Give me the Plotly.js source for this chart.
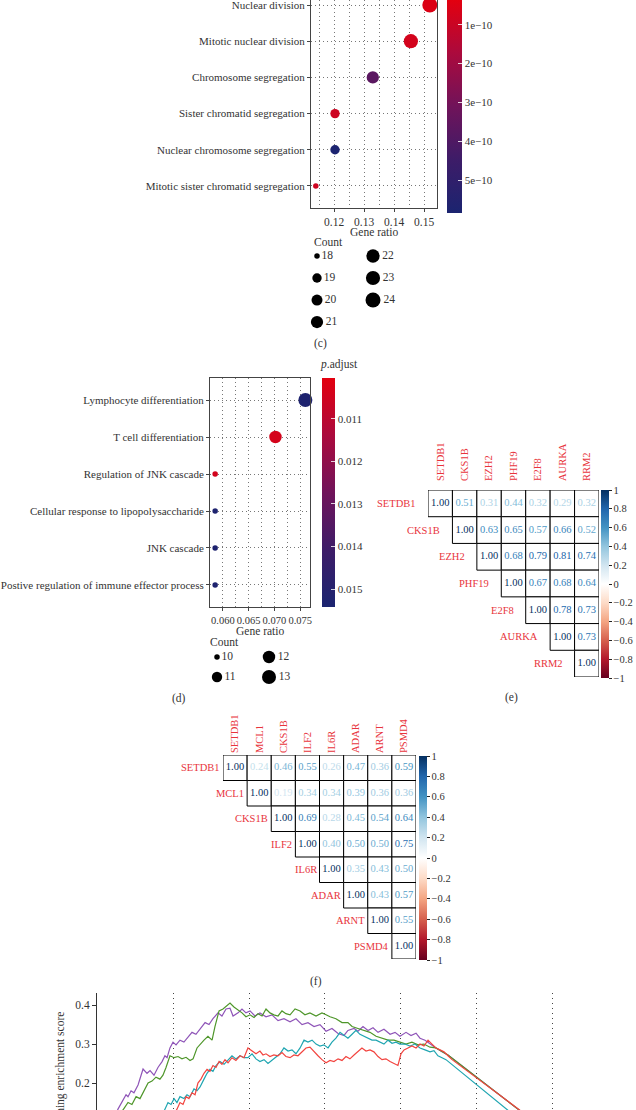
<!DOCTYPE html>
<html>
<head>
<meta charset="utf-8">
<script src="https://cdn.plot.ly/plotly-3.0.1.min.js"></script>
<style>html,body{margin:0;padding:0;background:#fff;}#chart{width:636px;height:1110px;}</style>
</head>
<body>
<div id="chart"></div>
<script>
// ---------------- DATA ----------------
// (c) GO dot plot
const termsC = ['Nuclear division','Mitotic nuclear division','Chromosome segregation','Sister chromatid segregation','Nuclear chromosome segregation','Mitotic sister chromatid segregation'];
const countC = [24, 23, 21, 19, 19, 18];
const ratioC = [0.1519, 0.1456, 0.1329, 0.1203, 0.1203, 0.1139];
const padjC  = [0.55e-10, 0.75e-10, 3.7e-10, 0.9e-10, 5.8e-10, 0.9e-10];
const countLegendC = [18, 19, 20, 21, 22, 23, 24];
const padjTicksC = [1e-10, 2e-10, 3e-10, 4e-10, 5e-10];
const padjTickTextC = ['1e\u221210','2e\u221210','3e\u221210','4e\u221210','5e\u221210'];

// (d) GO dot plot
const termsD = ['Lymphocyte differentiation','T cell differentiation','Regulation of JNK cascade','Cellular response to lipopolysaccharide','JNK cascade','Postive regulation of immune effector process'];
const countD = [13, 12, 10, 10, 10, 10];
const ratioD = [0.0760, 0.0702, 0.0585, 0.0585, 0.0585, 0.0585];
const padjD  = [0.01530, 0.01040, 0.01045, 0.01530, 0.01530, 0.01530];
const countLegendD = [10, 11, 12, 13];
const padjTicksD = [0.011, 0.012, 0.013, 0.014, 0.015];

// (e) correlation matrix (upper triangle, row by row)
const genesE = ['SETDB1','CKS1B','EZH2','PHF19','E2F8','AURKA','RRM2'];
const corrE = [
  [1.00, 0.51, 0.31, 0.44, 0.32, 0.29, 0.32],
  [1.00, 0.63, 0.65, 0.57, 0.66, 0.52],
  [1.00, 0.68, 0.79, 0.81, 0.74],
  [1.00, 0.67, 0.68, 0.64],
  [1.00, 0.78, 0.73],
  [1.00, 0.73],
  [1.00]
];

// (f) correlation matrix
const genesF = ['SETDB1','MCL1','CKS1B','ILF2','IL6R','ADAR','ARNT','PSMD4'];
const corrF = [
  [1.00, 0.24, 0.46, 0.55, 0.26, 0.47, 0.36, 0.59],
  [1.00, 0.19, 0.34, 0.34, 0.39, 0.36, 0.36],
  [1.00, 0.69, 0.28, 0.45, 0.54, 0.64],
  [1.00, 0.40, 0.50, 0.50, 0.75],
  [1.00, 0.35, 0.43, 0.50],
  [1.00, 0.43, 0.57],
  [1.00, 0.55],
  [1.00]
];

// GSEA running enrichment score (gene rank, ES)
const purpleRank = [0,990,1380,1640,1910,2040,2240,2430,2700,3030,3290,3490,3750,4010,4280,4470,4610,4800,5000,5200,5460,5720,5990,6250,6510,6780,7110,7370,7630,7960,8220,8490,8750,8950,9280,9540,9800,10070,10390,10720,11120,11510,11910,12300,12700,13090,13490,13880,14280,14670,15070,15460,15860,16250,16510,16910,17170,17500,17830,18160,18490,18880,19280,19610,19930,20330,20660,20990,21250,21580,21910,22300,22700,23090,32110];
const purpleES   = [0,0.10,0.133,0.15,0.17,0.165,0.18,0.175,0.195,0.236,0.225,0.232,0.22,0.24,0.255,0.27,0.265,0.29,0.305,0.298,0.31,0.305,0.318,0.33,0.325,0.34,0.355,0.35,0.365,0.38,0.372,0.39,0.392,0.372,0.38,0.39,0.38,0.385,0.372,0.38,0.37,0.375,0.36,0.365,0.357,0.365,0.35,0.355,0.345,0.35,0.333,0.34,0.327,0.322,0.335,0.34,0.333,0.345,0.335,0.342,0.33,0.338,0.325,0.33,0.32,0.33,0.322,0.328,0.315,0.31,0.30,0.29,0.28,0.272,0];
const greenRank = [0,1510,1780,2040,2300,2570,2830,3090,3360,3620,3880,4140,4340,4540,4800,5070,5330,5590,5860,6120,6320,6580,6780,7040,7300,7570,7760,8030,8290,8550,8750,9010,9280,9540,9800,10070,10330,10590,10860,11120,11380,11640,11910,12170,12430,12700,13030,13360,13680,14010,14410,14800,15070,15330,15720,16120,16510,16780,17170,17570,17960,18360,18750,19150,19540,19930,20330,20720,21120,21510,21910,22300,22700,23090,32110];
const greenES   = [0,0.12,0.135,0.15,0.145,0.165,0.16,0.18,0.20,0.205,0.215,0.21,0.22,0.24,0.27,0.265,0.268,0.262,0.266,0.258,0.262,0.29,0.30,0.31,0.32,0.31,0.345,0.385,0.39,0.40,0.405,0.395,0.388,0.38,0.37,0.375,0.368,0.378,0.372,0.39,0.38,0.375,0.372,0.385,0.378,0.375,0.39,0.385,0.375,0.38,0.372,0.38,0.375,0.37,0.365,0.355,0.355,0.345,0.34,0.335,0.33,0.32,0.315,0.31,0.31,0.305,0.30,0.305,0.298,0.30,0.292,0.29,0.28,0.272,0];
const tealRank = [0,3490,4470,4670,4870,5070,5260,5460,5720,5920,6120,6380,6580,6780,7040,7240,7430,7630,7830,8090,8360,8620,8880,9140,9410,9670,9930,10200,10460,10720,10990,11250,11510,11780,12040,12300,12570,12830,13090,13360,13620,13880,14150,14410,14670,14930,15200,15460,15720,15990,16250,16510,16780,17040,17300,17570,17830,18090,18360,18620,18880,19150,19410,19670,19930,20260,20590,20920,21250,21580,21910,22170,22430,22700,22960,31120];
const tealES   = [0,0.05,0.133,0.15,0.145,0.16,0.15,0.165,0.16,0.17,0.165,0.185,0.18,0.19,0.21,0.225,0.235,0.23,0.245,0.255,0.248,0.26,0.27,0.262,0.27,0.265,0.265,0.275,0.262,0.255,0.26,0.25,0.258,0.265,0.275,0.29,0.282,0.285,0.275,0.29,0.31,0.305,0.31,0.30,0.295,0.298,0.29,0.305,0.315,0.33,0.322,0.315,0.325,0.335,0.325,0.32,0.315,0.31,0.31,0.305,0.30,0.31,0.302,0.305,0.30,0.30,0.295,0.30,0.29,0.285,0.28,0.283,0.27,0.265,0.26,0];
const redRank = [0,4140,5260,5460,5660,5860,6050,6250,6450,6640,6840,7040,7240,7430,7630,7830,8030,8220,8420,8620,8880,9140,9410,9670,9930,10200,10460,10720,10920,11120,11380,11640,11910,12170,12430,12700,12960,13220,13490,13750,14010,14280,14540,14800,15070,15330,15590,15860,16120,16380,16640,16910,17170,17430,17700,17960,18220,18490,18750,19010,19280,19540,19800,20000,20200,20460,20720,20990,21250,21510,21780,22040,22300,22570,22830,23090,23360,32300];
const redES   = [0,0.05,0.133,0.15,0.145,0.165,0.16,0.175,0.17,0.20,0.21,0.225,0.235,0.23,0.245,0.24,0.255,0.248,0.26,0.252,0.265,0.258,0.27,0.265,0.29,0.282,0.275,0.282,0.272,0.275,0.268,0.272,0.27,0.278,0.268,0.265,0.272,0.27,0.28,0.29,0.292,0.28,0.27,0.26,0.252,0.258,0.255,0.262,0.258,0.268,0.262,0.272,0.28,0.29,0.282,0.285,0.28,0.268,0.26,0.262,0.255,0.25,0.245,0.275,0.285,0.29,0.295,0.29,0.30,0.295,0.31,0.30,0.29,0.285,0.28,0.27,0.26,0];

// ---------------- HELPERS ----------------
const W = 636, H = 1110;
const FONT = '"Liberation Serif", "Times New Roman", Times, serif';
const TXT = '#333333';
const RED_LABEL = '#e8343c';
const px = x => x / W;
const py = y => 1 - y / H;

const dotScale = [[0,'#1b2470'],[0.25,'#3d1c68'],[0.5,'#70135a'],[0.75,'#ab0a3d'],[1,'#e3000f']];
const rdbu = ['#67001F','#B2182B','#D6604D','#F4A582','#FDDBC7','#FFFFFF','#D1E5F0','#92C5DE','#4393C3','#2166AC','#053061'];
const rdbuScale = rdbu.map((c, i) => [i / 10, c]);
function hex2rgb(h){ return [parseInt(h.slice(1,3),16), parseInt(h.slice(3,5),16), parseInt(h.slice(5,7),16)]; }
function corrColor(v){
  const t = (v + 1) / 2 * 10;
  const i = Math.min(9, Math.floor(t));
  const f = t - i;
  const a = hex2rgb(rdbu[i]), b = hex2rgb(rdbu[i + 1]);
  const c = a.map((ai, k) => Math.round(ai + (b[k] - ai) * f));
  return 'rgb(' + c.join(',') + ')';
}
// ggplot-like area size scale
function sizeScale(c, lo, hi, d0, d1){ return d0 + Math.sqrt((c - lo) / (hi - lo)) * (d1 - d0); }

const traces = [];
const shapes = [];
const annotations = [];

function ann(text, x, y, opts){
  annotations.push(Object.assign({text: text, x: px(x), y: py(y), xref: 'paper', yref: 'paper',
    xanchor: 'center', yanchor: 'middle',
    showarrow: false, font: {family: FONT, size: 11.5, color: TXT}}, opts || {}));
}

const DOT_DASH = '1px,3px';

// ---------------- (c) ----------------
traces.push({
  type: 'scatter', mode: 'markers', xaxis: 'x', yaxis: 'y', cliponaxis: false,
  x: ratioC, y: termsC,
  marker: {
    size: countC.map(c => sizeScale(c, 18, 24, 5.5, 15)),
    color: padjC.map(v => -v), colorscale: dotScale, cmin: -5.85e-10, cmax: -0.36e-10,
    line: {width: 0}, opacity: 1, showscale: true,
    colorbar: {x: px(447), xanchor: 'left', xpad: 0, y: 1, yanchor: 'top', ypad: 0,
      len: 213, lenmode: 'pixels', thickness: 15, thicknessmode: 'pixels', outlinewidth: 0,
      tickmode: 'array', tickvals: padjTicksC.map(v => -v), ticktext: padjTickTextC,
      ticks: 'inside', ticklen: 4, tickcolor: 'rgba(255,255,255,0.8)',
      tickfont: {family: FONT, size: 11, color: TXT}}
  }
});
traces.push({
  type: 'scatter', mode: 'markers+text', xaxis: 'x6', yaxis: 'y6', cliponaxis: false,
  x: countLegendC.map((c, i) => Math.floor(i / 4)),
  y: countLegendC.map((c, i) => i % 4),
  text: countLegendC.map(String), textposition: 'middle right',
  textfont: {family: FONT, size: 11.5, color: TXT},
  marker: {color: '#000', opacity: 1, line: {width: 0}, size: countLegendC.map(c => sizeScale(c, 18, 24, 5.5, 15))}
});
ann('Gene ratio', 374, 232);
ann('Count', 312, 242, {xanchor: 'left'});
ann('(c)', 320, 344);

// ---------------- (d) ----------------
traces.push({
  type: 'scatter', mode: 'markers', xaxis: 'x2', yaxis: 'y2', cliponaxis: false,
  x: ratioD, y: termsD,
  marker: {
    size: countD.map(c => sizeScale(c, 10, 13, 5.5, 14)),
    color: padjD.map(v => -v), colorscale: dotScale, cmin: -0.01542, cmax: -0.01004,
    line: {width: 0}, opacity: 1, showscale: true,
    colorbar: {x: px(322), xanchor: 'left', xpad: 0, y: py(378), yanchor: 'top', ypad: 0,
      len: 229, lenmode: 'pixels', thickness: 13, thicknessmode: 'pixels', outlinewidth: 0,
      tickmode: 'array', tickvals: padjTicksD.map(v => -v), ticktext: padjTicksD.map(v => v.toFixed(3)),
      ticks: 'inside', ticklen: 4, tickcolor: 'rgba(255,255,255,0.8)',
      tickfont: {family: FONT, size: 11, color: TXT}}
  }
});
traces.push({
  type: 'scatter', mode: 'markers+text', xaxis: 'x7', yaxis: 'y7', cliponaxis: false,
  x: countLegendD.map((c, i) => Math.floor(i / 2)),
  y: countLegendD.map((c, i) => i % 2),
  text: countLegendD.map(String), textposition: 'middle right',
  textfont: {family: FONT, size: 11.5, color: TXT},
  marker: {color: '#000', opacity: 1, line: {width: 0}, size: countLegendD.map(c => sizeScale(c, 10, 13, 5.5, 14))}
});
ann('<i>p</i>.adjust', 318, 364, {xanchor: 'left'});
ann('Gene ratio', 260, 631);
ann('Count', 208, 642, {xanchor: 'left'});
ann('(d)', 179, 698);

// ---------------- correlation panels ----------------
function corrPanel(genes, corr, xa, ya, cbX, cbTop, cbLen, labelShift){
  const xs = [], ys = [], vs = [];
  corr.forEach((row, i) => row.forEach((v, k) => {
    const j = i + k;
    xs.push(j); ys.push(i); vs.push(v);
    shapes.push({type: 'rect', xref: xa, yref: ya, x0: j - 0.5, x1: j + 0.5, y0: i - 0.5, y1: i + 0.5,
      line: {color: '#000', width: 1}, fillcolor: 'white', layer: 'below'});
  }));
  traces.push({
    type: 'scatter', mode: 'text', xaxis: xa, yaxis: ya, cliponaxis: false,
    x: xs, y: ys, text: vs.map(v => v.toFixed(2)), textposition: 'middle center',
    textfont: {family: FONT, size: 10.5, color: vs.map(corrColor)}
  });
  traces.push({
    type: 'scatter', mode: 'markers', xaxis: xa, yaxis: ya, x: xs, y: ys,
    marker: {color: vs, colorscale: rdbuScale, cmin: -1, cmax: 1, opacity: 0, size: 1, showscale: true,
      colorbar: {x: px(cbX), xanchor: 'left', xpad: 0, y: py(cbTop), yanchor: 'top', ypad: 0,
        len: cbLen, lenmode: 'pixels', thickness: 8, thicknessmode: 'pixels', outlinewidth: 0,
        tick0: -1, dtick: 0.2, ticks: 'outside', ticklen: 3, tickcolor: '#222',
        tickfont: {family: FONT, size: 10.5, color: TXT}}}
  });
  genes.forEach((g, i) => {
    annotations.push({text: g, xref: xa, yref: ya, x: i - 0.5, y: i, xanchor: 'right', yanchor: 'middle',
      xshift: labelShift, showarrow: false, font: {family: FONT, size: 10.5, color: RED_LABEL}});
  });
}
corrPanel(genesE, corrE, 'x3', 'y3', 601, 490, 188, -10);
corrPanel(genesF, corrF, 'x4', 'y4', 419, 756, 204, -1);
ann('(e)', 511, 697);
ann('(f)', 316, 981);

// ---------------- GSEA ----------------
const gseaSeries = [
  {x: purpleRank, y: purpleES, c: '#8f55b8'},
  {x: greenRank,  y: greenES,  c: '#4e962a'},
  {x: tealRank,   y: tealES,   c: '#1fa5b1'},
  {x: redRank,    y: redES,    c: '#f2443f'}
];
gseaSeries.forEach(s => traces.push({type: 'scatter', mode: 'lines', xaxis: 'x5', yaxis: 'y5',
  x: s.x, y: s.y, line: {color: s.c, width: 1.2}}));
ann('Running enrichment score', 60, 1073, {textangle: -90, font: {family: FONT, size: 11.5, color: TXT}});

// ---------------- LAYOUT ----------------
const gridDot = {showgrid: true, griddash: DOT_DASH, gridcolor: '#777', gridwidth: 1};
const tickF = {family: FONT, size: 11, color: TXT};
const hiddenAx = {visible: false, showgrid: false, zeroline: false, fixedrange: true};

const layout = {
  width: W, height: H, margin: {l: 0, r: 0, t: 0, b: 0, pad: 0},
  paper_bgcolor: '#fff', plot_bgcolor: '#fff', showlegend: false, hovermode: false,
  font: {family: FONT, color: TXT},
  xaxis: Object.assign({domain: [px(311), px(437)], range: [0.1123, 0.1543], anchor: 'y',
    tick0: 0.12, dtick: 0.01, tickformat: '.2f', tickangle: 0, showline: true, linecolor: '#444', linewidth: 1,
    ticks: 'outside', ticklen: 3, tickcolor: '#444', zeroline: false, tickfont: {family: FONT, size: 11.5, color: TXT},
    minor: {dtick: 0.005, tick0: 0.115, showgrid: true, griddash: DOT_DASH, gridcolor: '#777', ticks: ''}}, gridDot),
  yaxis: Object.assign({domain: [py(208), 1], anchor: 'x', type: 'category', categoryorder: 'array',
    categoryarray: termsC.slice().reverse(), range: [-0.608, 5.138],
    showline: true, mirror: true, linecolor: '#444', linewidth: 1, ticks: 'outside', ticklen: 3, tickcolor: '#444',
    zeroline: false, tickfont: tickF}, gridDot),
  xaxis2: Object.assign({domain: [px(210), px(310)], range: [0.0575, 0.0769], anchor: 'y2',
    tick0: 0.06, dtick: 0.005, tickformat: '.3f', tickangle: 0, showline: true, mirror: true, linecolor: '#444', linewidth: 1,
    ticks: 'outside', ticklen: 3, tickcolor: '#444', zeroline: false, tickfont: {family: FONT, size: 10.5, color: TXT},
    minor: {dtick: 0.0025, tick0: 0.06, showgrid: true, griddash: DOT_DASH, gridcolor: '#777', ticks: ''}}, gridDot),
  yaxis2: Object.assign({domain: [py(607), py(378)], anchor: 'x2', type: 'category', categoryorder: 'array',
    categoryarray: termsD.slice().reverse(), range: [-0.595, 5.595],
    showline: true, mirror: true, linecolor: '#444', linewidth: 1, ticks: 'outside', ticklen: 3, tickcolor: '#444',
    zeroline: false, tickfont: tickF}, gridDot),
  xaxis3: {domain: [px(428), px(599)], range: [-0.5, 6.5], anchor: 'y3', side: 'top',
    tickmode: 'array', tickvals: genesE.map((g, i) => i), ticktext: genesE, tickangle: -90, ticks: '',
    ticklabelstandoff: 8, showgrid: false, zeroline: false, showline: false,
    tickfont: {family: FONT, size: 10.5, color: RED_LABEL}},
  yaxis3: {domain: [py(677), py(490)], range: [6.5, -0.5], anchor: 'x3', showticklabels: false,
    showgrid: false, zeroline: false, showline: false, ticks: ''},
  xaxis4: {domain: [px(223), px(416)], range: [-0.5, 7.5], anchor: 'y4', side: 'top',
    tickmode: 'array', tickvals: genesF.map((g, i) => i), ticktext: genesF, tickangle: -90, ticks: '',
    ticklabelstandoff: 1, showgrid: false, zeroline: false, showline: false,
    tickfont: {family: FONT, size: 10.5, color: RED_LABEL}},
  yaxis4: {domain: [py(959), py(755)], range: [7.5, -0.5], anchor: 'x4', showticklabels: false,
    showgrid: false, zeroline: false, showline: false, ticks: ''},
  xaxis5: {domain: [px(97), px(615)], range: [0, 34080], anchor: 'y5', tick0: 0, dtick: 5000,
    showgrid: true, griddash: '1px,4px', gridcolor: '#444', gridwidth: 1, showticklabels: false, ticks: '',
    zeroline: false, showline: false},
  yaxis5: {domain: [0, py(993)], range: [0.1308, 0.431], anchor: 'x5', tick0: 0, dtick: 0.1, tickformat: '.1f',
    showline: true, linecolor: '#333', linewidth: 1, ticks: 'outside', ticklen: 4, tickcolor: '#333',
    showgrid: false, zeroline: false, tickfont: {family: FONT, size: 11.5, color: TXT}},
  xaxis6: Object.assign({domain: [px(300), px(420)], range: [-17/56, 103/56], anchor: 'y6'}, hiddenAx),
  yaxis6: Object.assign({domain: [py(335), py(245)], range: [3.59, -0.5], anchor: 'x6'}, hiddenAx),
  xaxis7: Object.assign({domain: [px(200), px(300)], range: [-17/52, 83/52], anchor: 'y7'}, hiddenAx),
  yaxis7: Object.assign({domain: [py(690), py(647)], range: [1.65, -0.5], anchor: 'x7'}, hiddenAx),
  shapes: shapes,
  annotations: annotations
};

Plotly.newPlot('chart', traces, layout, {displayModeBar: false, staticPlot: true});
</script>
</body>
</html>
